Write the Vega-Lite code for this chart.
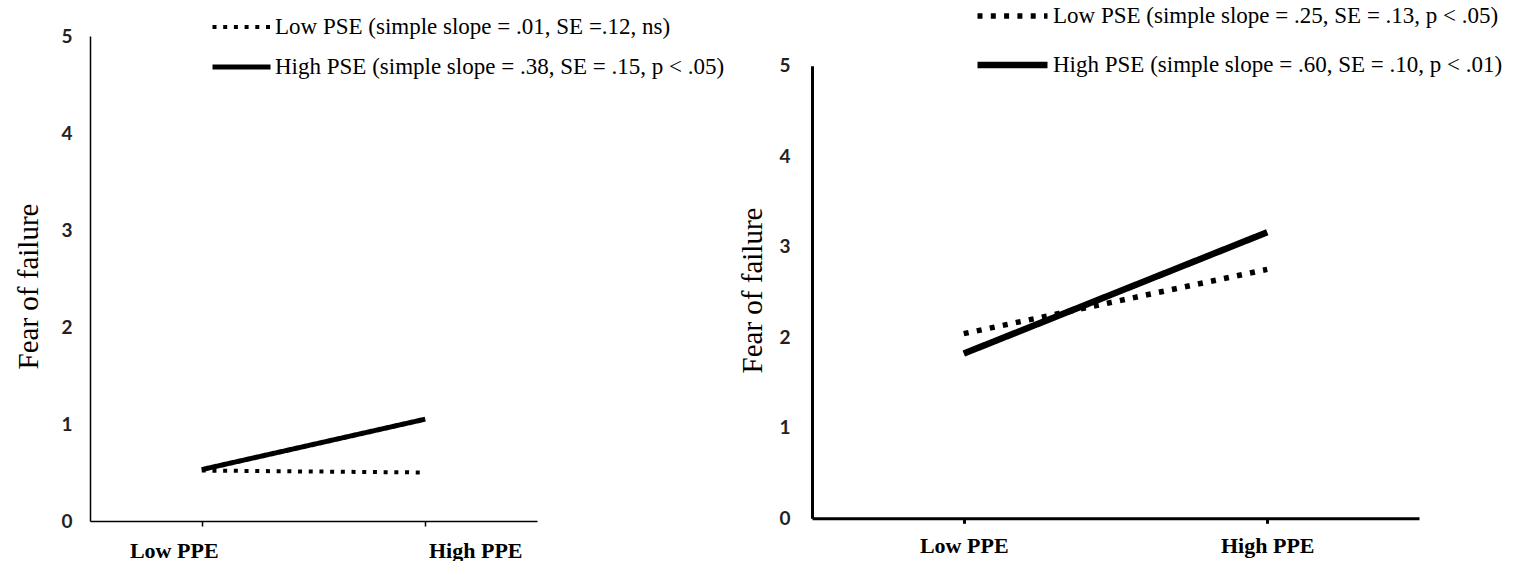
{
  "$schema": "https://vega.github.io/schema/vega-lite/v6.json",
  "background": "white",
  "padding": {"left": 14, "top": 3, "right": 0, "bottom": 0},
  "autosize": {"type": "pad"},
  "config": {"view": {"stroke": null}},
  "spacing": 13,
  "datasets": {
    "left": [
      {"series": "Low PSE (simple slope = .01, SE =.12, ns)", "PPE": "Low PPE", "fear": 0.52},
      {"series": "Low PSE (simple slope = .01, SE =.12, ns)", "PPE": "High PPE", "fear": 0.50},
      {"series": "High PSE (simple slope = .38, SE = .15, p < .05)", "PPE": "Low PPE", "fear": 0.53},
      {"series": "High PSE (simple slope = .38, SE = .15, p < .05)", "PPE": "High PPE", "fear": 1.05}
    ],
    "right": [
      {"series": "Low PSE (simple slope = .25, SE = .13, p < .05)", "PPE": "Low PPE", "fear": 2.04},
      {"series": "Low PSE (simple slope = .25, SE = .13, p < .05)", "PPE": "High PPE", "fear": 2.75},
      {"series": "High PSE (simple slope = .60, SE = .10, p < .01)", "PPE": "Low PPE", "fear": 1.82},
      {"series": "High PSE (simple slope = .60, SE = .10, p < .01)", "PPE": "High PPE", "fear": 3.16}
    ]
  },
  "resolve": {
    "scale": {"x": "independent", "y": "independent", "strokeDash": "independent", "strokeWidth": "independent"},
    "legend": {"strokeDash": "independent", "strokeWidth": "independent"}
  },
  "hconcat": [
    {
      "width": 447,
      "height": 485,
      "data": {"name": "left"},
      "mark": {"type": "line", "color": "black", "strokeCap": "butt"},
      "encoding": {
        "x": {
          "field": "PPE", "type": "nominal", "sort": ["Low PPE", "High PPE"],
          "scale": {"type": "point", "padding": 0.5},
          "axis": {
            "title": null, "labelAngle": 0, "grid": false,
            "domainColor": "black", "domainWidth": 1.5,
            "tickColor": "black", "tickWidth": 1.5, "tickSize": 5,
            "labelFont": "Liberation Serif", "labelFontWeight": "bold", "labelFontSize": 22, "labelColor": "black",
            "labelPadding": 14, "labelOverlap": false, "labelFlush": false,
            "labelOffset": {"condition": {"test": "datum.value === 'Low PPE'", "value": -28}, "value": 50}
          }
        },
        "y": {
          "field": "fear", "type": "quantitative",
          "scale": {"domain": [0, 5], "nice": false},
          "axis": {
            "values": [0, 1, 2, 3, 4, 5], "ticks": false, "tickSize": 0, "grid": false,
            "domainColor": "black", "domainWidth": 1.5,
            "labelFont": "Lato", "labelFontWeight": "bold", "labelFontSize": 19, "labelColor": "#222",
            "labelPadding": 18, "labelFlush": false,
            "title": "Fear of failure", "titleFont": "Liberation Serif", "titleFontWeight": "normal",
            "titleFontSize": 29, "titleColor": "black", "titlePadding": 17, "titleY": 250
          }
        },
        "strokeDash": {
          "field": "series", "type": "ordinal",
          "scale": {"domain": ["Low PSE (simple slope = .01, SE =.12, ns)", "High PSE (simple slope = .38, SE = .15, p < .05)"], "range": [[4, 6.7], [1, 0]]},
          "legend": {
            "title": null, "orient": "none", "legendX": 120, "legendY": -22, "padding": 0,
            "direction": "vertical", "symbolType": "stroke", "symbolSize": 3364, "symbolStrokeColor": "black",
            "labelFont": "Liberation Serif", "labelFontSize": 23, "labelColor": "black", "labelLimit": 0,
            "labelOffset": 2, "rowPadding": 14, "clipHeight": 26
          }
        },
        "strokeWidth": {
          "field": "series", "type": "ordinal",
          "scale": {"domain": ["Low PSE (simple slope = .01, SE =.12, ns)", "High PSE (simple slope = .38, SE = .15, p < .05)"], "range": [4, 5]},
          "legend": {
            "title": null, "orient": "none", "legendX": 120, "legendY": -22, "padding": 0,
            "direction": "vertical", "symbolType": "stroke", "symbolSize": 3364, "symbolStrokeColor": "black",
            "labelFont": "Liberation Serif", "labelFontSize": 23, "labelColor": "black", "labelLimit": 0,
            "labelOffset": 2, "rowPadding": 14, "clipHeight": 26
          }
        }
      }
    },
    {
      "width": 607,
      "height": 482.3,
      "data": {"name": "right"},
      "mark": {"type": "line", "color": "black", "strokeCap": "butt"},
      "encoding": {
        "x": {
          "field": "PPE", "type": "nominal", "sort": ["Low PPE", "High PPE"],
          "scale": {"type": "point", "padding": 0.5},
          "axis": {
            "title": null, "labelAngle": 0, "grid": false,
            "domainColor": "black", "domainWidth": 3,
            "tickColor": "black", "tickWidth": 3, "tickSize": 5,
            "labelFont": "Liberation Serif", "labelFontWeight": "bold", "labelFontSize": 22, "labelColor": "black",
            "labelPadding": 12, "labelOverlap": false, "labelFlush": false
          }
        },
        "y": {
          "field": "fear", "type": "quantitative",
          "scale": {"domain": [0, 5.328], "nice": false},
          "axis": {
            "values": [0, 1, 2, 3, 4, 5], "ticks": false, "tickSize": 0, "grid": false,
            "domainColor": "black", "domainWidth": 3, "domainDash": [452.6, 1000],
            "labelFont": "Lato", "labelFontWeight": "bold", "labelFontSize": 19, "labelColor": "#222",
            "labelPadding": 22, "labelFlush": false,
            "title": "Fear of failure", "titleFont": "Liberation Serif", "titleFontWeight": "normal",
            "titleFontSize": 29, "titleColor": "black", "titlePadding": 11, "titleY": 254
          }
        },
        "strokeDash": {
          "field": "series", "type": "ordinal",
          "scale": {"domain": ["Low PSE (simple slope = .25, SE = .13, p < .05)", "High PSE (simple slope = .60, SE = .10, p < .01)"], "range": [[5, 8.3], [1, 0]]},
          "legend": {
            "title": null, "orient": "none", "legendX": 162, "legendY": -33, "padding": 0,
            "direction": "vertical", "symbolType": "stroke", "symbolSize": 4900, "symbolStrokeColor": "black",
            "labelFont": "Liberation Serif", "labelFontSize": 23, "labelColor": "black", "labelLimit": 0,
            "labelOffset": 2, "rowPadding": 23, "clipHeight": 26
          }
        },
        "strokeWidth": {
          "field": "series", "type": "ordinal",
          "scale": {"domain": ["Low PSE (simple slope = .25, SE = .13, p < .05)", "High PSE (simple slope = .60, SE = .10, p < .01)"], "range": [5.5, 6.5]},
          "legend": {
            "title": null, "orient": "none", "legendX": 162, "legendY": -33, "padding": 0,
            "direction": "vertical", "symbolType": "stroke", "symbolSize": 4900, "symbolStrokeColor": "black",
            "labelFont": "Liberation Serif", "labelFontSize": 23, "labelColor": "black", "labelLimit": 0,
            "labelOffset": 2, "rowPadding": 23, "clipHeight": 26
          }
        }
      }
    }
  ]
}
